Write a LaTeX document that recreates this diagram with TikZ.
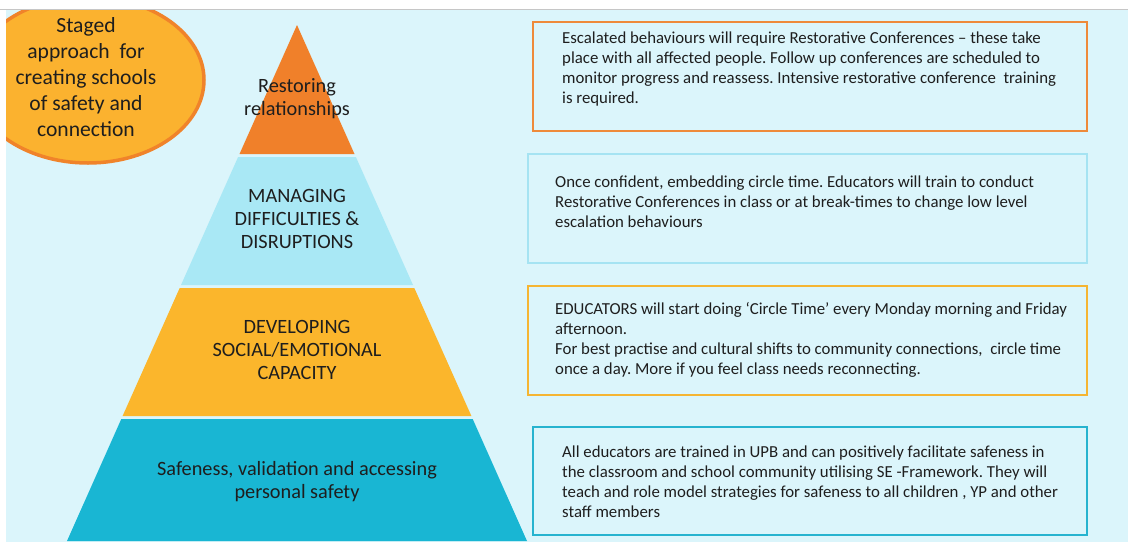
\documentclass[tikz,border=0pt]{standalone}
\usepackage{fontspec}
\setmainfont{Carlito}
\frenchspacing
\definecolor{bgcyan}{HTML}{DBF5FB}
\definecolor{orangeA}{HTML}{F0802A}
\definecolor{cyanL}{HTML}{A9E8F5}
\definecolor{goldL}{HTML}{FBB62C}
\definecolor{tealL}{HTML}{19B6D3}
\definecolor{ellFill}{HTML}{FBB22F}
\definecolor{ellLine}{HTML}{F0832A}
\definecolor{b1line}{HTML}{EE8A3A}
\definecolor{b2line}{HTML}{A5E3F2}
\definecolor{b3line}{HTML}{F5B532}
\definecolor{b4line}{HTML}{26B3CF}
\definecolor{txt}{HTML}{1E1E1E}
\begin{document}
\begin{tikzpicture}[x=1pt,y=-1pt,
  lvl/.style={font=\fontsize{20.3}{23}\selectfont, align=center, text=txt, inner sep=0pt},
  infobox/.style={draw, line width=2.6pt, minimum width=#1, inner sep=0pt},
  boxtext/.style={font=\fontsize{16.8}{20}\selectfont, align=left, text=txt, inner sep=0pt, anchor=north west},
  ell/.style={font=\fontsize{21.6}{25.8}\selectfont, align=center, text=txt, inner sep=0pt}]
\useasboundingbox (0,0) rectangle (1128,549);
\fill[white] (0,0) rectangle (1128,549);
\draw[gray!45, line width=0.8pt] (0,9.5) -- (1128,9.5);
\fill[bgcyan] (6,10) rectangle (1128,542);
% ellipse
\begin{scope}
  \clip (6,10) rectangle (1128,542);
  \draw[fill=ellFill, draw=ellLine, line width=3.5pt] (88,80) ellipse [x radius=116, y radius=83];
\end{scope}
\node[ell] (title) at (86,77) {Staged\\approach\ \ for\\creating schools\\of safety and\\connection};
% pyramid layers
\fill[orangeA] (297,25) -- (354.5,154) -- (239.5,154) -- cycle;
\fill[cyanL] (238.1,157) -- (355.9,157) -- (413,285) -- (181,285) -- cycle;
\fill[goldL] (179.7,288) -- (414.3,288) -- (471.4,416) -- (122.6,416) -- cycle;
\fill[tealL] (121.3,419) -- (472.7,419) -- (527,541) -- (67,541) -- cycle;
\node[lvl] (l1) at (297,99) {Restoring\\relationships};
\node[lvl] (l2) at (297,219) {MANAGING\\DIFFICULTIES \&\\DISRUPTIONS};
\node[lvl] (l3) at (297,350) {DEVELOPING\\SOCIAL/EMOTIONAL\\CAPACITY};
\node[lvl] (l4) at (297,482) {Safeness, validation and accessing\\personal safety};
% boxes
\node[infobox=554pt, draw=b1line, minimum height=109pt] (b1) at (810,76.5) {};
\node[infobox=559pt, draw=b2line, minimum height=109pt] (b2) at (807.5,208.5) {};
\node[infobox=559pt, draw=b3line, minimum height=109pt] (b3) at (807.5,340.5) {};
\node[infobox=554pt, draw=b4line, minimum height=108pt] (b4) at (810,481) {};
\node[boxtext] (t1) at (562,32) {Escalated behaviours will require Restorative Conferences -- these take\\place with all affected people. Follow up conferences are scheduled to\\monitor progress and reassess. Intensive restorative conference\ \ training\\is required.};
\node[boxtext] (t2) at (555,176) {Once confident, embedding circle time. Educators will train to conduct\\Restorative Conferences in class or at break-times to change low level\\escalation behaviours};
\node[boxtext] (t3) at (555,302) {EDUCATORS will start doing ‘Circle Time’ every Monday morning and Friday\\afternoon.\\For best practise and cultural shifts to community connections,\ \ circle time\\once a day. More if you feel class needs reconnecting.};
\node[boxtext] (t4) at (562,446) {All educators are trained in UPB and can positively facilitate safeness in\\the classroom and school community utilising SE -Framework. They will\\teach and role model strategies for safeness to all children , YP and other\\staff members};
\end{tikzpicture}
\end{document}
